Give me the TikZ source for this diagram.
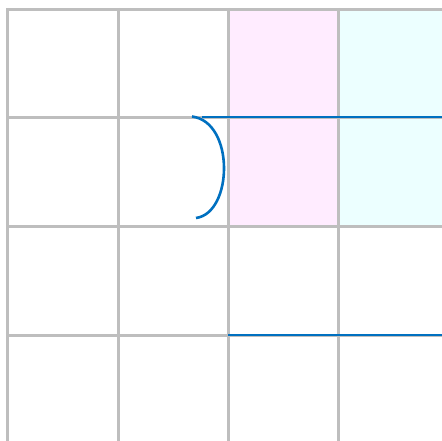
\documentclass[tikz,border=0pt]{standalone}
\definecolor{rejilla}{RGB}{190,190,190}
\definecolor{trazo}{RGB}{0,112,192}
\definecolor{rosa}{RGB}{255,236,255}
\definecolor{celeste}{RGB}{236,255,255}
\tikzset{
  linea rejilla/.style={rejilla, line width=3pt},
  linea trazo/.style={trazo, line width=2.6pt}
}
\begin{document}
\begin{tikzpicture}[x=1pt,y=-1pt]
\useasboundingbox (0,0) rectangle (442,441);

% Celdas coloreadas
\fill[rosa] (228,9.5) rectangle (338,226);
\fill[celeste] (338,9.5) rectangle (442,226);

% Rejilla
	\foreach \x in {7.5, 118, 228, 338}
		\draw[linea rejilla] (\x,8) -- (\x,441);

	\foreach \y in {9.5, 117.5, 226, 335}
		\draw[linea rejilla] (6,\y) -- (442,\y);

% Trazos
\coordinate (ini) at (192,116.5);
\coordinate (fin) at (196,218);
\coordinate (corte) at (202,117);
\coordinate (der) at (442,117);
\coordinate (abajo izq) at (228,335);
\coordinate (abajo der) at (442,335);

\draw[linea trazo] (der) -- (corte);
\draw[linea trazo] (ini) .. controls (235,122) and (233,213) .. (fin);
\draw[linea trazo] (abajo izq) -- (abajo der);
\end{tikzpicture}
\end{document}
